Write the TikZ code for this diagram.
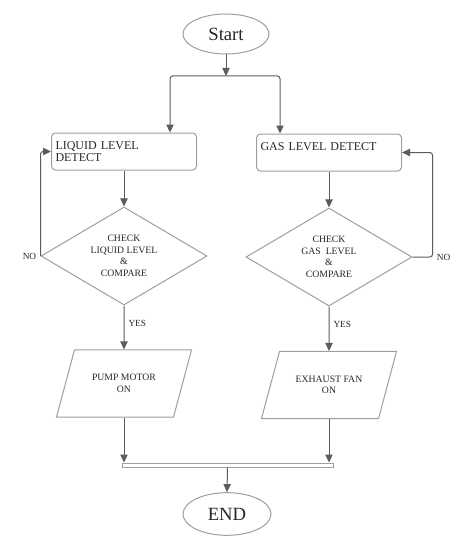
\documentclass[tikz,border=0pt]{standalone}
\usepackage{fontspec}
\setmainfont{Liberation Serif}
\usetikzlibrary{shapes.geometric,arrows.meta}
\definecolor{linegray}{HTML}{5C5C5C}
\definecolor{shapegray}{HTML}{9E9E9E}
\definecolor{textgray}{HTML}{262626}

\begin{document}
\begin{tikzpicture}[x=0.75pt, y=-0.75pt,
  every node/.style={text=textgray},
  terminal/.style={ellipse, draw=shapegray, line width=0.75pt, inner sep=0pt,
    minimum width=64.5pt, minimum height=30pt, font=\fontsize{14}{16}\selectfont},
  process/.style={rectangle, rounded corners=3pt, draw=shapegray, line width=0.75pt,
    minimum width=108.75pt, minimum height=27.75pt, inner sep=3pt,
    text width=102.75pt, align=left, font=\fontsize{9}{9.6}\selectfont},
  decision/.style={diamond, draw=shapegray, line width=0.75pt, aspect=1.7, inner sep=0pt,
    minimum width=124.5pt, minimum height=73.5pt, align=center,
    font=\fontsize{7.3}{8.6}\selectfont},
  output/.style={trapezium, trapezium left angle=75, trapezium right angle=105,
    trapezium stretches body=true, draw=shapegray, line width=0.75pt,
    inner xsep=0pt, inner ysep=18.4pt,
    minimum width=101.25pt, minimum height=50.25pt, align=center,
    font=\fontsize{7.3}{8.6}\selectfont},
  lbl/.style={inner sep=3pt, font=\fontsize{7}{8}\selectfont},
  flow/.style={draw=linegray, line width=0.75pt, rounded corners=2pt,
    -{Triangle[length=6pt, width=5.5pt]}}]

  \useasboundingbox (0,0) rectangle (471,542);

  % Start and the fork into two branches
  \node[terminal] (start) at (226,34) {Start};
  \coordinate (fork) at (226,76);
  \coordinate (lcol) at (170,0);
  \coordinate (rcol) at (280,0);

  % Detect boxes
  \node[process] (liquid) at (124,151.5) {LIQUID LEVEL\\DETECT};
  \node[process] (gas) at (329,152.5) {GAS LEVEL DETECT\\\mbox{}};

  % Checks
  \node[decision] (chkL) at (124,256) {CHECK\\LIQUID LEVEL\\\&\\COMPARE};
  \node[decision] (chkG) at (329,257) {CHECK\\GAS\ \ LEVEL\\\&\\COMPARE};

  % Outputs
  \node[output] (pump) at (124,383.5) {PUMP MOTOR\\ON};
  \node[output] (fan) at (329,385) {EXHAUST FAN\\ON};

  % Join bar and end
  \node[rectangle, draw=shapegray, fill=white, line width=0.75pt, inner sep=0pt,
    minimum width=158.25pt, minimum height=3pt] (join) at (227.5,465) {};
  \node[terminal, minimum width=66pt, minimum height=32pt] (stop) at (227,514) {END};

  % Connectors
  \draw[flow] (start) -- (fork);
  \draw[flow] (fork) -| (liquid.north -| lcol);
  \draw[flow] (fork) -| (gas.north -| rcol);
  \draw[flow] (liquid) -- (chkL);
  \draw[flow] (gas) -- (chkG);

  % NO loops
  \draw[flow] (chkL.west) |- (liquid.west);
  \node[lbl, anchor=east] (noL) at (chkL.west) {NO};
  \draw[flow] (chkG.east) -- ++(20,0) |- (gas.east);
  \node[lbl, anchor=west] (noG) at ([xshift=15pt]chkG.east) {NO};

  % YES branches
  \draw[flow] (chkL.south) -- node[lbl, right, pos=0.4] (yesL) {YES} (pump.north);
  \draw[flow] (chkG.south) -- node[lbl, right, pos=0.4] (yesG) {YES} (fan.north);

  \draw[flow] (pump.south) -- (pump.south |- join.north);
  \draw[flow] (fan.south) -- (fan.south |- join.north);
  \draw[flow] (join.south) -- (stop.north);
\end{tikzpicture}
\end{document}
